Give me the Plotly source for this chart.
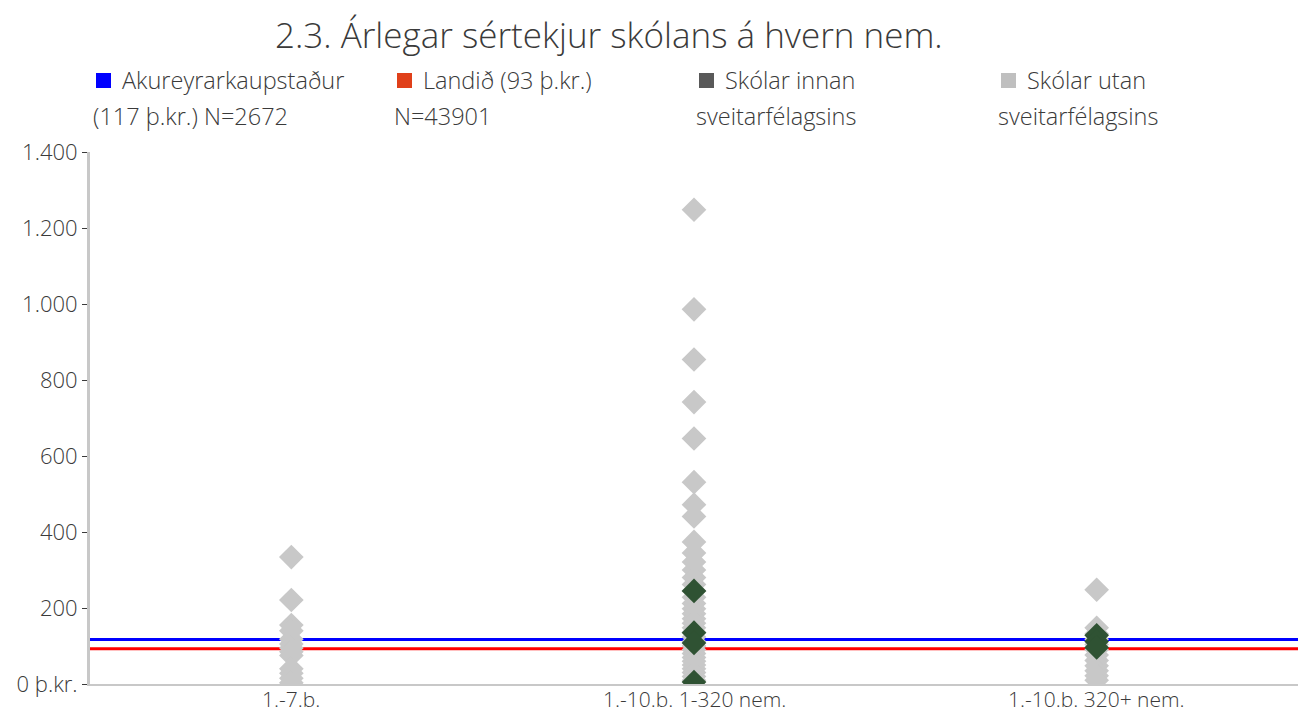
import plotly.graph_objects as go

# Categories (school types) and per-school annual special income per pupil (þ.kr.)
categories = ["1.-7.b.", "1.-10.b. 1-320 nem.", "1.-10.b. 320+ nem."]

utan_7b = [334, 221, 155, 140, 118, 105, 95, 85, 75, 40, 28, 15, 3]
utan_320 = [1248, 986, 854, 742, 646, 531, 472, 441, 374, 345, 321, 300, 280,
            262, 245, 228, 212, 198, 185, 172, 160, 148, 136, 124, 112, 100,
            90, 80, 70, 60, 50, 40, 30, 20, 10]
utan_320plus = [248, 148, 132, 118, 104, 90, 76, 62, 48, 35, 22, 10]

innan_320 = [245, 135, 108, 5]
innan_320plus = [128, 112, 96]

# Reference levels
akureyri_avg = 117
landid_avg = 93

y_tickvals = [0, 200, 400, 600, 800, 1000, 1200, 1400]
y_ticktext = ["0 þ.kr.", "200", "400", "600", "800", "1.000", "1.200", "1.400"]

legend_items = [
    ("Akureyrarkaupstaður", "(117 þ.kr.) N=2672", "#0000ff"),
    ("Landið (93 þ.kr.)", "N=43901", "#e0401a"),
    ("Skólar innan", "sveitarfélagsins", "#595959"),
    ("Skólar utan", "sveitarfélagsins", "#bfbfbf"),
]

FONT = "Open Sans"
WEIGHT = 300
TEXT = "#3a3a3a"
GRAY = "#c8c8c8"
GREEN = "#2f5233"

W, H = 1300, 715
ML, MR, MT, MB = 90, 2, 152, 31
PW, PH = W - ML - MR, H - MT - MB


def px(xpix):
    # pixel column -> paper x (plot-area relative)
    return (xpix - ML) / PW


def py(ypix):
    # pixel row -> paper y (plot-area relative)
    return (H - MB - ypix) / PH


def tfont(size):
    return dict(family=FONT, size=size, color=TEXT, weight=WEIGHT)


fig = go.Figure()

utan_x = [categories[0]] * len(utan_7b) + [categories[1]] * len(utan_320) + [categories[2]] * len(utan_320plus)
utan_y = utan_7b + utan_320 + utan_320plus
fig.add_trace(go.Scatter(
    x=utan_x, y=utan_y, mode="markers", showlegend=False,
    marker=dict(symbol="diamond", size=19, color=GRAY, line=dict(width=0)),
))

innan_x = [categories[1]] * len(innan_320) + [categories[2]] * len(innan_320plus)
innan_y = innan_320 + innan_320plus
fig.add_trace(go.Scatter(
    x=innan_x, y=innan_y, mode="markers", showlegend=False,
    marker=dict(symbol="diamond", size=19, color=GREEN, line=dict(width=0)),
))

# Average lines across the full plot width
for val, col in [(akureyri_avg, "#0000ff"), (landid_avg, "#ff0000")]:
    fig.add_shape(type="line", xref="paper", x0=0, x1=1, yref="y", y0=val, y1=val,
                  line=dict(color=col, width=3), layer="below")

# Category labels under the axis, kept inside the page
for cat in categories:
    fig.add_annotation(xref="x", yref="paper", x=cat, y=py(699),
                       text=cat, showarrow=False, xanchor="center", yanchor="middle",
                       font=tfont(21))

# Custom legend: square swatch + two-line label
x_starts = [96, 397, 699, 1001]
for (l1, l2, col), xs in zip(legend_items, x_starts):
    fig.add_shape(type="rect", xref="paper", yref="paper",
                  x0=px(xs), x1=px(xs + 15), y0=py(88), y1=py(73),
                  fillcolor=col, line=dict(width=0))
    fig.add_annotation(xref="paper", yref="paper", x=px(xs + 24), y=py(80),
                       text=l1, showarrow=False, xanchor="left", yanchor="middle",
                       font=tfont(23.5))
    fig.add_annotation(xref="paper", yref="paper", x=px(xs - 5), y=py(116),
                       text=l2, showarrow=False, xanchor="left", yanchor="middle",
                       font=tfont(23.5))

fig.add_annotation(xref="paper", yref="paper", x=px(609), y=py(34),
                   text="2.3. Árlegar sértekjur skólans á hvern nem.",
                   showarrow=False, xanchor="center", yanchor="middle",
                   font=tfont(35))

fig.update_layout(
    width=W, height=H,
    margin=dict(l=ML, r=MR, t=MT, b=MB),
    plot_bgcolor="white", paper_bgcolor="white",
    font=tfont(22),
    showlegend=False,
)
fig.update_xaxes(
    type="category", categoryorder="array", categoryarray=categories,
    range=[-0.5, 2.5], showgrid=False, zeroline=False, automargin=False,
    showline=True, linecolor=GRAY, linewidth=2, ticks="",
    showticklabels=False,
)
fig.update_yaxes(
    range=[0, 1400], tickvals=y_tickvals, ticktext=y_ticktext,
    showgrid=False, zeroline=False, showline=True, linecolor=GRAY, linewidth=3,
    automargin=False,
    ticks="outside", ticklen=5, tickcolor=TEXT, tickwidth=1,
    tickfont=tfont(22),
)

fig.write_html("out.html")
